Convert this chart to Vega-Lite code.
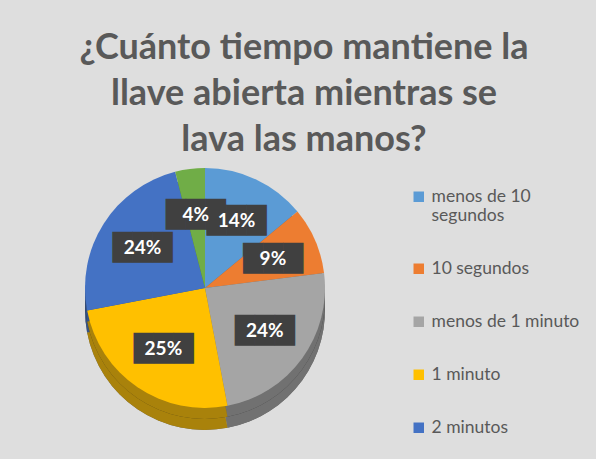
{
  "$schema": "https://vega.github.io/schema/vega-lite/v6.json",
  "width": 300,
  "height": 262,
  "autosize": {"type": "none"},
  "padding": {"left": 55, "top": 157, "right": 241, "bottom": 40},
  "background": "#dedede",
  "title": {
    "text": ["¿Cuánto tiempo mantiene la", "llave abierta mientras se", "lava las manos?"],
    "font": "Lato",
    "fontSize": 36,
    "fontWeight": "bold",
    "color": "#595959",
    "anchor": "middle",
    "dx": 99,
    "offset": -2,
    "lineHeight": 46
  },
  "data": {
    "values": [
      {"categoria": "menos de 10 segundos", "porcentaje": 14, "orden": 1, "etiqueta": "14%"},
      {"categoria": "10 segundos", "porcentaje": 9, "orden": 2, "etiqueta": "9%"},
      {"categoria": "menos de 1 minuto", "porcentaje": 24, "orden": 3, "etiqueta": "24%"},
      {"categoria": "1 minuto", "porcentaje": 25, "orden": 4, "etiqueta": "25%"},
      {"categoria": "2 minutos", "porcentaje": 24, "orden": 5, "etiqueta": "24%"},
      {"categoria": "más de 2 minutos", "porcentaje": 4, "orden": 6, "etiqueta": "4%"}
    ]
  },
  "encoding": {
    "theta": {"field": "porcentaje", "type": "quantitative", "stack": true},
    "order": {"field": "orden", "type": "quantitative"},
    "color": {
      "field": "categoria",
      "type": "nominal",
      "scale": {
        "domain": ["menos de 10 segundos", "10 segundos", "menos de 1 minuto", "1 minuto", "2 minutos", "más de 2 minutos"],
        "range": ["#5B9BD5", "#ED7D31", "#A5A5A5", "#FFC000", "#4472C4", "#70AD47"]
      },
      "legend": {
        "title": null,
        "values": ["menos de 10 segundos", "10 segundos", "menos de 1 minuto", "1 minuto", "2 minutos"],
        "orient": "none",
        "legendX": 355,
        "legendY": 31,
        "padding": 0,
        "symbolType": "square",
        "symbolSize": 110,
        "symbolStrokeWidth": 0,
        "symbolOpacity": 1,
        "labelFont": "Lato",
        "labelFontSize": 17.5,
        "labelColor": "#595959",
        "labelOffset": 4,
        "labelLimit": 200,
        "rowPadding": 34,
        "labelExpr": "datum.label == 'menos de 10 segundos' ? ['menos de 10', 'segundos'] : datum.label"
      }
    }
  },
  "layer": [
    {
      "mark": {"type": "arc", "outerRadius": 120, "yOffset": 22},
      "encoding": {"color": {"value": "#1e1e1e"}}
    },
    {
      "mark": {"type": "arc", "outerRadius": 120, "yOffset": 22, "opacity": 0.62}
    },
    {
      "mark": {"type": "arc", "outerRadius": 120, "yOffset": 11},
      "encoding": {"color": {"value": "#1e1e1e"}}
    },
    {
      "mark": {"type": "arc", "outerRadius": 120, "yOffset": 11, "opacity": 0.62}
    },
    {
      "mark": {"type": "arc", "outerRadius": 120}
    },
    {
      "mark": {"type": "text", "radius": 74, "font": "DejaVu Sans", "fontSize": 26, "align": "center", "baseline": "middle"},
      "encoding": {"text": {"value": "███"}, "color": {"value": "#404040"}}
    },
    {
      "mark": {"type": "text", "radius": 74, "font": "Lato", "fontSize": 19, "fontWeight": "bold", "align": "center", "baseline": "middle"},
      "encoding": {"text": {"field": "etiqueta"}, "color": {"value": "#ffffff"}}
    }
  ]
}
